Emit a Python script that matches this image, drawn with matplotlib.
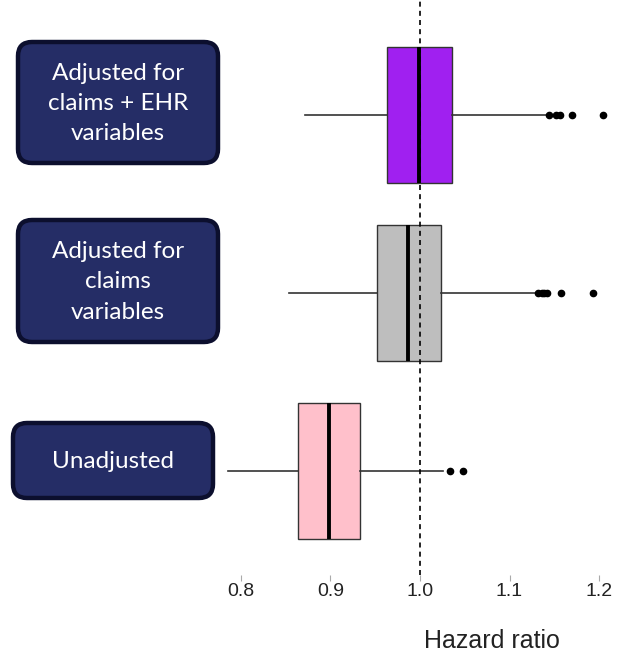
import matplotlib
matplotlib.use("Agg")
import matplotlib.pyplot as plt
from matplotlib.patches import FancyBboxPatch

# ---- data ----
groups = ["Unadjusted", "Adjusted for\nclaims\nvariables", "Adjusted for\nclaims + EHR\nvariables"]
q1 = [0.864, 0.952, 0.963]
med = [0.898, 0.987, 0.999]
q3 = [0.933, 1.024, 1.036]
whislo = [0.786, 0.854, 0.872]
whishi = [1.026, 1.130, 1.142]
fliers = [
    [1.034, 1.048],
    [1.132, 1.136, 1.139, 1.142, 1.157, 1.193],
    [1.144, 1.152, 1.156, 1.170, 1.205],
]
colors = ["#FFC0CB", "#BEBEBE", "#A020F0"]
xticks = [0.8, 0.9, 1.0, 1.1, 1.2]
xtick_labels = ["0.8", "0.9", "1.0", "1.1", "1.2"]
ref_value = 1.0
xlabel = "Hazard ratio"

W, H = 628, 670
fig = plt.figure(figsize=(W / 100, H / 100), dpi=100)
fig.patch.set_facecolor("white")

# main boxplot axes
ax = fig.add_axes([220 / W, (H - 575) / H, 400 / W, 575 / H])
stats = []
for i in range(3):
    stats.append(dict(q1=q1[i], med=med[i], q3=q3[i], whislo=whislo[i],
                      whishi=whishi[i], fliers=fliers[i], label=""))
bp = ax.bxp(stats, positions=[1, 2, 3], vert=False, widths=0.76,
            patch_artist=True, showcaps=False,
            boxprops=dict(edgecolor="#333333", linewidth=1.0),
            whiskerprops=dict(color="#333333", linewidth=1.2),
            medianprops=dict(color="black", linewidth=2.8),
            flierprops=dict(marker="o", markerfacecolor="black",
                            markeredgecolor="black", markersize=4.5))
for patch, c in zip(bp["boxes"], colors):
    patch.set_facecolor(c)

ax.axvline(ref_value, color="black", linestyle=(0, (3, 2.5)), linewidth=1.2, zorder=5)

ax.set_xlim(0.77654, 1.22346)
ax.set_ylim(0.4157, 3.646)
for s in ax.spines.values():
    s.set_visible(False)
ax.set_yticks([])
ax.set_xticks(xticks)
ax.set_xticklabels(xtick_labels, fontsize=14, color="#222222", family="Liberation Sans")
ax.tick_params(axis="x", length=4, width=0.8, color="#aaaaaa", pad=2)
ax.set_facecolor("white")

fig.text(492 / W, 1 - 641 / H, xlabel, fontsize=18, family="Liberation Sans",
         color="#222222", ha="center", va="center")

# label boxes in pixel coordinates
lab = fig.add_axes([0, 0, 1, 1], zorder=10)
lab.set_xlim(0, W)
lab.set_ylim(H, 0)
lab.axis("off")
lab.patch.set_alpha(0)
boxes_px = [(13, 423, 200, 75), (18, 220, 200, 122), (18, 42, 200, 121)]
for (x0, y0, bw, bh), g in zip(boxes_px, groups):
    p = FancyBboxPatch((x0 + 8, y0 + 8), bw - 16, bh - 16,
                       boxstyle="round,pad=8,rounding_size=14",
                       facecolor="#252D66", edgecolor="#0C0F2E", linewidth=3.2)
    lab.add_patch(p)
    lab.text(x0 + bw / 2, y0 + bh / 2 + 1, g, color="white", fontsize=17.5,
             family="Lato", ha="center", va="center", linespacing=1.55)

fig.savefig("out.png", dpi=100)
